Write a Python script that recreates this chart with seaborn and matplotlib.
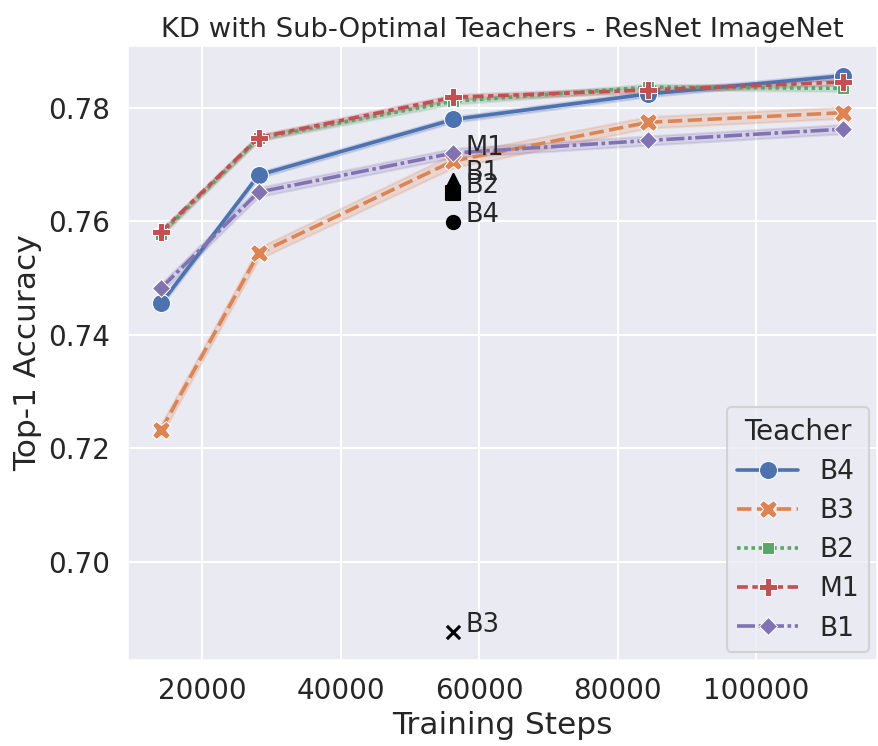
import matplotlib
matplotlib.use("Agg")
import matplotlib.pyplot as plt
import seaborn as sns
import pandas as pd

steps = [14070, 28140, 56280, 84420, 112560]
teachers = ["B4", "B3", "B2", "M1", "B1"]

# student top-1 accuracy, three runs per training budget
runs_b4 = [[0.7450, 0.7455, 0.7460], [0.7676, 0.7681, 0.7686], [0.7774, 0.7779, 0.7784],
           [0.7819, 0.7824, 0.7829], [0.7851, 0.7856, 0.7861]]
runs_b3 = [[0.7222, 0.7232, 0.7242], [0.7533, 0.7543, 0.7553], [0.7694, 0.7706, 0.7718],
           [0.7764, 0.7774, 0.7784], [0.7781, 0.7791, 0.7801]]
runs_b2 = [[0.7573, 0.7578, 0.7583], [0.7741, 0.7746, 0.7751], [0.7806, 0.7811, 0.7816],
           [0.7831, 0.7836, 0.7841], [0.7829, 0.7834, 0.7839]]
runs_m1 = [[0.7576, 0.7581, 0.7586], [0.7742, 0.7747, 0.7752], [0.7813, 0.7818, 0.7823],
           [0.7826, 0.7831, 0.7836], [0.7840, 0.7845, 0.7850]]
runs_b1 = [[0.7474, 0.7482, 0.7490], [0.7643, 0.7651, 0.7659], [0.7712, 0.7720, 0.7728],
           [0.7734, 0.7742, 0.7750], [0.7754, 0.7762, 0.7770]]

# accuracy of the teachers themselves
teacher_acc = [0.7598, 0.6876, 0.7650, 0.7716, 0.7672]
teacher_markers = ["o", "x", "s", "P", "^"]

rows = []
for name, runs in zip(teachers, [runs_b4, runs_b3, runs_b2, runs_m1, runs_b1]):
    for step, vals in zip(steps, runs):
        for v in vals:
            rows.append({"Training Steps": step, "Top-1 Accuracy": v, "Teacher": name})
df = pd.DataFrame(rows)

sns.set_theme(context="talk")
fig, ax = plt.subplots(figsize=(8.79, 7.46), dpi=100)

for name, acc, m in zip(teachers, teacher_acc, teacher_markers):
    ax.scatter(steps[2], acc, color="black", marker=m, s=90, zorder=1)
    ax.text(steps[2] + 1700, acc, name, fontsize=18.5)

sns.lineplot(data=df, x="Training Steps", y="Top-1 Accuracy", hue="Teacher", style="Teacher",
             hue_order=teachers, style_order=teachers, markers=True, errorbar="sd",
             markersize=13, linewidth=2.6, ax=ax)

ax.set_title("KD with Sub-Optimal Teachers - ResNet ImageNet", fontsize=19.7)
ax.set_xlabel("Training Steps", fontsize=22.5)
ax.set_ylabel("Top-1 Accuracy", fontsize=22.5)
ax.tick_params(labelsize=20)
ax.legend(title="Teacher", loc="lower right", fontsize=19, title_fontsize=20,
          borderaxespad=0.3, handlelength=2.3)

fig.subplots_adjust(left=0.1445, right=0.998, top=0.9397, bottom=0.1153)
plt.savefig("out.png")
